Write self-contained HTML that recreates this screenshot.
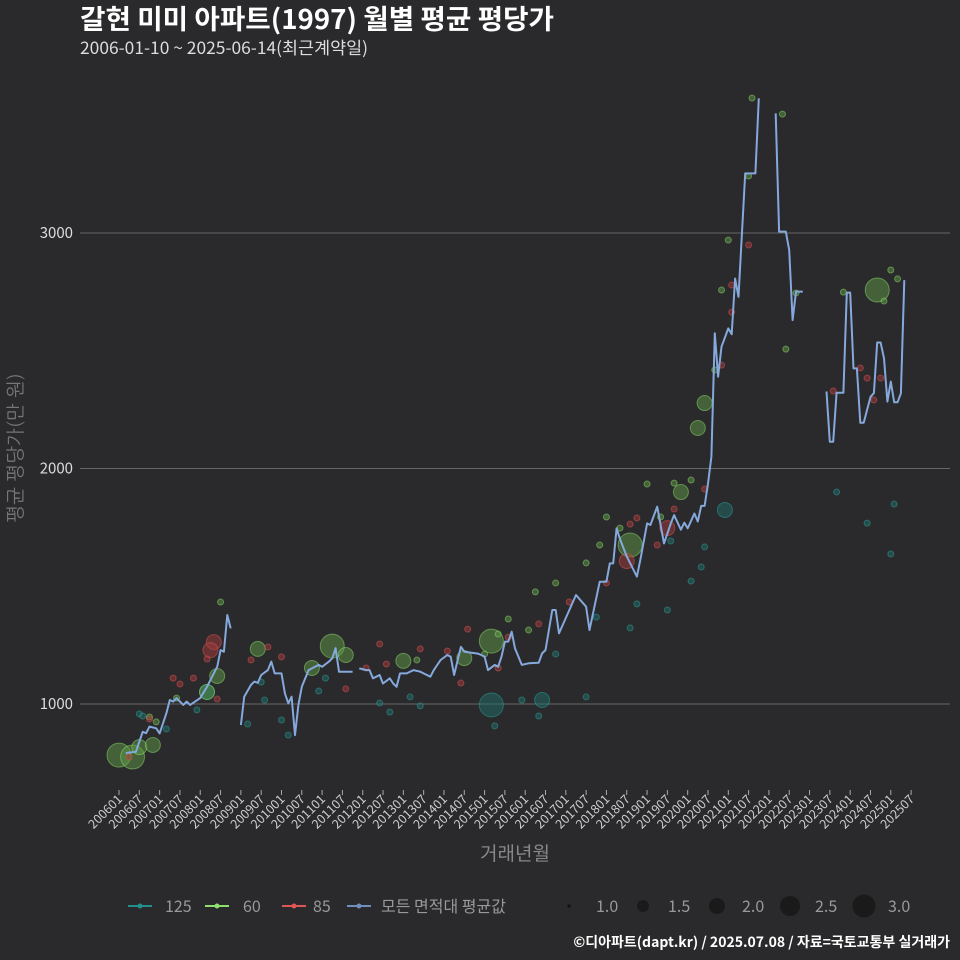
<!DOCTYPE html>
<html><head><meta charset="utf-8">
<style>
html,body{margin:0;padding:0;background:#2a292b;}
svg{display:block;font-family:"Liberation Sans","Noto Sans CJK KR",sans-serif;}
.kr{font-family:"Noto Sans CJK KR","Liberation Sans",sans-serif;}
.nk{font-family:"NanumGothic","Noto Sans CJK KR",sans-serif;}
</style></head>
<body>
<svg id="chart" width="960" height="960" viewBox="0 0 960 960">
<rect x="0" y="0" width="960" height="960" fill="#2a292b"/>
<text class="kr" x="80" y="29" fill="#ffffff" font-size="27" font-weight="bold" textLength="474" lengthAdjust="spacingAndGlyphs">갈현 미미 아파트(1997) 월별 평균 평당가</text>
<text class="kr" x="80" y="54" fill="#dddddd" font-size="17" textLength="288" lengthAdjust="spacingAndGlyphs">2006-01-10 ~ 2025-06-14(최근계약일)</text>
<g id="grid"></g>
<g id="yaxis"></g>
<g id="xaxis"></g>
<g id="points"></g>
<g id="line"></g>
<text class="nk" x="0" y="0" transform="translate(22,448) rotate(-90)" text-anchor="middle" fill="#777777" font-size="19">평균 평당가(만 원)</text>
<text class="kr" x="515" y="860" text-anchor="middle" fill="#888888" font-size="19">거래년월</text>
<g>
 <g>
  <line x1="128" y1="906" x2="152" y2="906" stroke="#23908c" stroke-width="2"/><circle cx="140" cy="906" r="2.5" fill="#23908c"/>
  <text class="kr" x="165" y="912" fill="#999" font-size="16">125</text></g>
 <g>
  <line x1="205" y1="906" x2="229" y2="906" stroke="#8ee06e" stroke-width="2"/><circle cx="217" cy="906" r="2.5" fill="#8ee06e"/>
  <text class="kr" x="243" y="912" fill="#999" font-size="16">60</text></g>
 <g>
  <line x1="282" y1="906" x2="306" y2="906" stroke="#e05555" stroke-width="2"/><circle cx="294" cy="906" r="2.5" fill="#e05555"/>
  <text class="kr" x="313" y="912" fill="#999" font-size="16">85</text></g>
 <g>
  <line x1="347" y1="906" x2="371" y2="906" stroke="#6f8fbf" stroke-width="2"/><circle cx="359" cy="906" r="2.5" fill="#6f8fbf"/>
  <text class="kr" x="381" y="912" fill="#999" font-size="16">모든 면적대 평균값</text></g>
 <g>
  <circle cx="569" cy="906" r="1.6" fill="#111"/>
  <text class="kr" x="596" y="912" fill="#999" font-size="16">1.0</text>
  <circle cx="643" cy="906" r="6" fill="#1a1a1a"/>
  <text class="kr" x="668" y="912" fill="#999" font-size="16">1.5</text>
  <circle cx="717" cy="906" r="8" fill="#1a1a1a"/>
  <text class="kr" x="742" y="912" fill="#999" font-size="16">2.0</text>
  <circle cx="790" cy="906" r="10" fill="#1a1a1a"/>
  <text class="kr" x="815" y="912" fill="#999" font-size="16">2.5</text>
  <circle cx="864" cy="906" r="11.5" fill="#1a1a1a"/>
  <text class="kr" x="888" y="912" fill="#999" font-size="16">3.0</text>
 </g>
</g>
<text class="kr" x="950" y="947" text-anchor="end" fill="#ffffff" font-size="14" font-weight="bold">©디아파트(dapt.kr) / 2025.07.08 / 자료=국토교통부 실거래가</text>
</svg>
<script>
// ---- data (month index since 2006-01, value in 만원/평) ----
const yTicks = [1000, 2000, 3000];
const xTickLabels = [];
for (let yr = 2006; yr <= 2025; yr++) { xTickLabels.push(yr + "01"); xTickLabels.push(yr + "07"); }

const lineMonths = [2,5,7,8,9,11,12,14,15,16,17,19,20,21,24,26,28,29,30,31,32,33,null,
36,37,39,40,41,42,44,45,46,48,49,50,51,52,53,54,56,57,59,60,62,63,64,65,69,null,
71,73,74,75,76,77,78,80,81,82,83,85,87,89,90,92,93,95,97,98,99,101,102,106,107,108,109,111,112,113,114,115,116,117,119,121,124,125,126,128,129,130,135,138,139,142,144,145,146,147,148,150,153,154,156,157,159,161,163,164,166,167,168,170,171,172,173,174,175,176,177,178,180,181,182,183,185,188,189,null,
194,195,197,198,199,200,202,null,
209,210,211,212,214,215,216,217,218,219,220,222,223,224,225,226,227,228,229,230,231,232];
const lineValues = [792,797,882,876,904,897,875,961,1017,1010,1025,996,1010,996,1025,1073,1130,1158,1229,1222,1378,1321,null,
911,1031,1081,1095,1090,1123,1144,1180,1130,1130,1045,1003,1031,868,996,1073,1144,1151,1166,1158,1180,1194,1237,1137,1137,null,
1151,1144,1144,1109,1116,1123,1087,1109,1087,1073,1130,1130,1144,1137,1130,1116,1144,1187,1208,1201,1123,1243,1222,1214,1208,1201,1144,1166,1158,1201,1265,1265,1307,1236,1166,1173,1175,1215,1229,1399,1399,1300,1463,1413,1314,1519,1519,1597,1597,1746,1700,1626,1541,1611,1767,1760,1838,1682,1767,1802,1740,1770,1746,1809,1775,1841,1841,1936,2050,2574,2390,2517,2595,2570,2807,2729,3253,3253,3572,null,
3508,3006,3006,2928,2630,2751,2751,null,
2327,2114,2114,2322,2322,2747,2747,2425,2425,2194,2194,2304,2320,2535,2535,2468,2284,2369,2281,2281,2319,2800];

const g60Months = [0,4,6,10,11,9,17,26,29,30,41,57,63,67,84,88,102,110,108,112,115,121,123,129,138,142,144,148,151,156,160,164,166,169,171,173,176,178,180,186,187,196,197,200,214,224,226,228,230];
const g60Values = [783,775,817,826,924,945,1025,1051,1119,1433,1234,1153,1246,1208,1183,1187,1195,1267,1212,1297,1361,1314,1476,1514,1599,1675,1794,1747,1675,1934,1794,1938,1900,1951,2172,2278,2418,2758,2970,3242,3573,3505,2507,2745,2749,2758,2711,2843,2805];
const g60Counts = [3,3,2,2,1,1,1,2,2,1,2,2,3,2,2,1,2,3,1,1,1,1,1,1,1,1,1,1,3,1,1,1,2,1,2,2,1,1,1,1,1,1,1,1,1,3,1,1,1];

const g85Months = [3,9,16,18,22,28,27,26,29,39,44,48,67,73,77,79,89,97,101,103,112,115,124,133,144,150,151,153,159,162,164,173,178,181,181,186,211,219,221,223,225];
const g85Values = [775,936,1110,1085,1110,1263,1229,1191,1021,1187,1242,1200,1064,1153,1255,1170,1234,1225,1089,1318,1153,1284,1340,1433,1514,1607,1764,1790,1675,1747,1828,1913,2439,2664,2779,2949,2329,2427,2384,2291,2384];
const g85Counts = [1,1,1,1,1,2,2,1,1,1,1,1,1,1,1,1,1,1,1,1,1,1,1,1,1,2,1,1,1,2,1,1,1,1,1,1,1,1,1,1,1];

const g125Months = [6,7,14,23,26,38,42,43,48,50,59,61,77,80,86,89,110,111,119,124,125,129,138,141,151,153,162,163,169,172,173,179,212,221,228,229];
const g125Values = [958,949,894,975,1051,915,1093,1017,932,868,1055,1110,1004,966,1030,992,996,907,1017,949,1017,1212,1030,1369,1323,1425,1399,1692,1522,1582,1667,1824,1900,1768,1637,1849];
const g125Counts = [1,1,1,1,2,1,1,1,1,1,1,1,1,1,1,1,3,1,1,1,2,1,1,1,1,1,1,1,1,1,1,2,1,1,1,1];

// ---- scales ----
const NS = "http://www.w3.org/2000/svg";
function xScale(m) { return 119 + m * 3.385; }
function yScale(v) { return 704 - (v - 1000) * 0.2355; }
function rScale(n) { return 3 + (n - 1) * 4.5; }
function mk(tag, attrs, parent) {
  const el = document.createElementNS(NS, tag);
  for (const k in attrs) el.setAttribute(k, attrs[k]);
  parent.appendChild(el);
  return el;
}
const grid = document.getElementById("grid");
const yaxis = document.getElementById("yaxis");
const xaxis = document.getElementById("xaxis");
yTicks.forEach(function (t) {
  const ln = mk("line", {x1: 80, x2: 950, y1: yScale(t), y2: yScale(t), stroke: "#666", "stroke-width": 1}, grid);
  
  
  const tx = mk("text", {x: 73, y: yScale(t) + 5, "text-anchor": "end", fill: "#dddddd", "font-size": 15, "class": "kr"}, yaxis);
  tx.textContent = t;
  
  
});
xTickLabels.forEach(function (lab, i) {
  const x = xScale(i * 6);
  const tk = mk("line", {x1: x, x2: x, y1: 790, y2: 795, stroke: "#aaa", "stroke-width": 1}, xaxis);
  
  
  const tx = mk("text", {x: 0, y: 0, transform: "translate(" + (x + 4) + ",800) rotate(-45)", "text-anchor": "end", fill: "#cccccc", "font-size": 12.5, "class": "kr"}, xaxis);
  tx.textContent = lab;
  
  
});
const pts = document.getElementById("points");
function drawSeries(ms, vs, cs, fill, stroke, name) {
  for (let i = 0; i < ms.length; i++) {
    const c = mk("circle", {cx: xScale(ms[i]), cy: yScale(vs[i]), r: rScale(cs[i]), fill: fill, "fill-opacity": 0.5, stroke: stroke, "stroke-opacity": 0.5, "stroke-width": 1}, pts);
    
    
  }
}
drawSeries(g125Months, g125Values, g125Counts, "#1f6f6c", "#2aa39d", "point-125");
drawSeries(g60Months, g60Values, g60Counts, "#5e9a48", "#8ee06e", "point-60");
drawSeries(g85Months, g85Values, g85Counts, "#a13c3c", "#e05555", "point-85");

const lineG = document.getElementById("line");
let d = "", pen = false;
for (let i = 0; i < lineMonths.length; i++) {
  if (lineMonths[i] === null || lineValues[i] === null) { pen = false; continue; }
  d += (pen ? "L" : "M") + xScale(lineMonths[i]).toFixed(1) + "," + yScale(lineValues[i]).toFixed(1);
  pen = true;
}
const path = mk("path", {d: d, fill: "none", stroke: "#85a9dc", "stroke-width": 2, "stroke-linejoin": "round"}, lineG);


</script>
</body></html>
